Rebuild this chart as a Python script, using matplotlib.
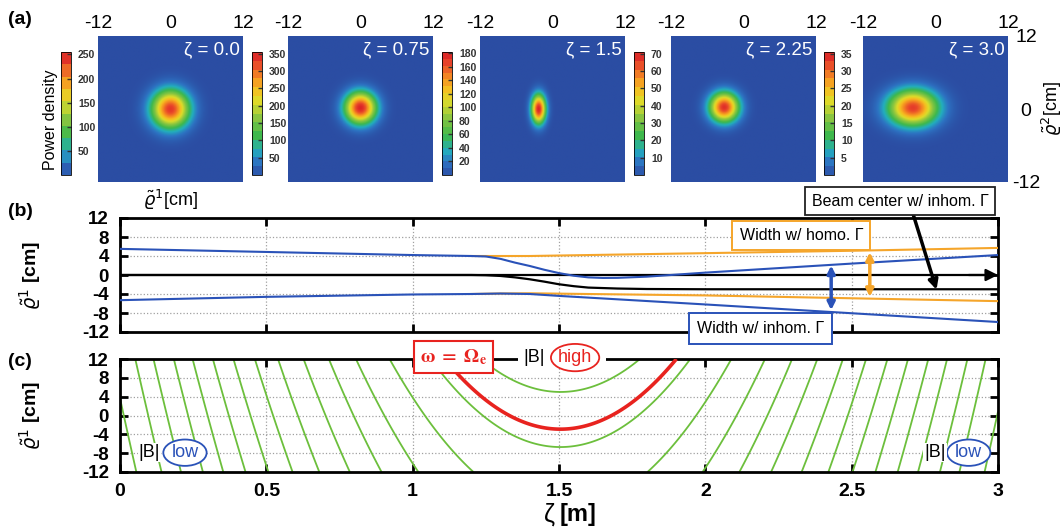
import numpy as np
import matplotlib
matplotlib.use('Agg')
import matplotlib.pyplot as plt
from matplotlib.colors import LinearSegmentedColormap
from matplotlib.patches import Ellipse, Rectangle

plt.rcParams['font.family'] = ['Liberation Sans', 'DejaVu Sans']
plt.rcParams['mathtext.fontset'] = 'dejavusans'

# ---------------- data: panel (a) beam cross sections ----------------
beam_labels = ['0.0', '0.75', '1.5', '2.25', '3.0']
beam_peak = [240, 350, 180, 68, 33]
beam_x0 = [0.0, 0.0, -2.3, -3.2, -3.75]
beam_y0 = [0.0, 0.2, 0.0, 0.3, 0.2]
beam_wx = [4.3, 3.6, 1.65, 3.35, 5.6]
beam_wy = [4.3, 3.6, 3.3, 3.35, 4.05]
cbar_max = [255, 355, 182, 71, 35.5]
cbar_step = [50, 50, 20, 10, 5]

# ---------------- data: panel (b) beam widths ----------------
zeta_blue_up = [0.0, 0.5, 1.0, 1.2, 1.25, 1.3, 1.35, 1.4, 1.45, 1.5, 1.55, 1.6, 1.65, 1.7, 1.8, 2.0, 2.5, 3.0]
blue_up = [5.5, 4.85, 4.2, 4.0, 3.9, 3.4, 2.6, 1.9, 1.1, 0.4, -0.15, -0.5, -0.62, -0.6, -0.35, 0.5, 2.4, 4.2]
zeta_blue_low = [0.0, 0.5, 1.0, 1.2, 1.3, 1.4, 1.5, 2.0, 2.5, 3.0]
blue_low = [-5.3, -4.6, -4.1, -4.0, -3.9, -4.0, -4.4, -6.2, -8.05, -9.9]
zeta_orange = [1.2, 1.3, 1.4, 2.0, 2.5, 3.0]
orange_up = [4.0, 4.0, 4.0, 4.6, 5.1, 5.7]
orange_low = [-4.0, -3.9, -3.85, -4.3, -4.9, -5.5]
zeta_center = [0.0, 1.2, 1.25, 1.3, 1.35, 1.4, 1.45, 1.5, 1.55, 1.6, 1.7, 1.8, 2.0, 3.0]
center = [0.0, 0.0, -0.05, -0.2, -0.5, -0.9, -1.4, -1.95, -2.35, -2.65, -2.85, -2.95, -3.0, -3.0]

# ---------------- data: panel (c) |B| contours ----------------
field_center = 1.505     # zeta of |B| maximum
field_curv = 95.0        # curvature of iso-|B| lines [cm / m^2]
green_levels = [-211.5, -188.5, -171.7, -153.8, -138.1, -122.0, -106.6, -91.6,
                -76.5, -61.2, -47.5, -34.4, -20.4, -6.7, 5.0]
resonance_level = -2.9

x_ticks = [0, 0.5, 1, 1.5, 2, 2.5, 3]
x_ticklabels = ['0', '0.5', '1', '1.5', '2', '2.5', '3']
y_ticks = [-12, -8, -4, 0, 4, 8, 12]

blue = '#2a52b8'
orange = '#f5a52a'
green = '#6cbf3c'
red = '#e8231f'

W, H = 1063, 527
fig = plt.figure(figsize=(W / 100, H / 100), dpi=100)

def rect(l, t, w, h):
    return [l / W, 1 - (t + h) / H, w / W, h / H]

cmap = LinearSegmentedColormap.from_list(
    'beam', [(0.0, '#2b4da3'), (0.10, '#2d72c2'), (0.20, '#22aebe'),
             (0.32, '#3db84c'), (0.47, '#8dc63f'), (0.60, '#dcdc2a'),
             (0.70, '#f6bd20'), (0.80, '#f48a22'), (0.91, '#e8452a'),
             (1.0, '#d81e26')])

hm_left = [98, 288, 480, 671, 863]
cb_left = [61, 252, 442, 634, 824]
g = np.linspace(-12, 12, 241)
GX, GY = np.meshgrid(g, g)
for i in range(5):
    ax = fig.add_axes(rect(hm_left[i], 36, 145, 146))
    Z = beam_peak[i] * np.exp(-2 * ((GX - beam_x0[i]) ** 2 / beam_wx[i] ** 2 +
                                    (GY - beam_y0[i]) ** 2 / beam_wy[i] ** 2))
    im = ax.imshow(Z, extent=[-12, 12, -12, 12], origin='lower', cmap=cmap,
                   vmin=0, vmax=cbar_max[i], aspect='auto', interpolation='bilinear')
    for s in ax.spines.values():
        s.set_visible(False)
    ax.xaxis.tick_top()
    ax.set_xticks([-12, 0, 12])
    ax.set_xticklabels(['-12', '0', '12'])
    ax.tick_params(axis='x', length=0, labelsize=14, pad=3)
    if i == 4:
        ax.yaxis.tick_right()
        ax.set_yticks([12, 0, -12])
        ax.set_yticklabels(['12', '0', '-12'])
        ax.tick_params(axis='y', length=0, labelsize=14, pad=13)
        for lab in ax.get_yticklabels():
            lab.set_horizontalalignment('center')
        ax.text(1.3, 0.5, r'$\tilde{\varrho}^{2}$[cm]', transform=ax.transAxes,
                rotation=90, ha='center', va='center', fontsize=13)
    else:
        ax.set_yticks([])
    ax.text(11.4, 9.7, 'ζ = ' + beam_labels[i], color='white', fontsize=13.5,
            ha='right', va='center')
    if i == 0:
        ax.text(0.5, -0.12, r'$\tilde{\varrho}^{1}$[cm]', transform=ax.transAxes,
                ha='center', va='center', fontsize=13)

    cax = fig.add_axes(rect(cb_left[i], 52, 10, 123))
    nb = int(round(cbar_max[i] / (cbar_step[i] / 2.0)))
    bounds = np.linspace(0, cbar_max[i], nb + 1)
    cb = fig.colorbar(im, cax=cax, boundaries=bounds)
    ticks = np.arange(cbar_step[i], cbar_max[i] + 0.01, cbar_step[i])
    cb.set_ticks(ticks)
    cb.set_ticklabels([('%g' % t) for t in ticks])
    cax.tick_params(direction='in', length=3, width=1, labelsize=7.5, pad=5,
                    colors='#333333')
    for lab in cax.get_yticklabels():
        lab.set_fontweight('bold')
    cb.outline.set_linewidth(0.6)
    if i == 0:
        cax.text(-1.1, 0.45, 'Power density', transform=cax.transAxes, rotation=90,
                 ha='center', va='center', fontsize=11.5)

def style_line_axes(ax, grid_y):
    ax.set_xlim(0, 3)
    ax.set_ylim(-12, 12)
    ax.set_xticks(x_ticks)
    ax.set_xticklabels(x_ticklabels)
    ax.set_yticks(y_ticks)
    ax.set_yticklabels([str(v) for v in y_ticks])
    ax.tick_params(direction='in', length=6, width=2, top=True, right=True,
                   labelsize=13.5)
    ax.tick_params(axis='y', pad=8)
    for lab in ax.get_yticklabels():
        lab.set_fontweight('bold')
    for s in ax.spines.values():
        s.set_linewidth(2)
    for xv in [0.5, 1, 1.5, 2, 2.5]:
        ax.axvline(xv, color='#a0a0a0', ls=':', lw=0.9, zorder=0)
    for yv in grid_y:
        ax.axhline(yv, color='#a0a0a0', ls=':', lw=0.9, zorder=0)
    ax.set_ylabel(r'$\tilde{\varrho}^{1}$ [cm]', fontsize=14, fontweight='bold')
    ax.yaxis.set_label_coords(-0.088, 0.5)

# ---------------- panel (b) ----------------
axb = fig.add_axes(rect(120, 218, 878, 114))
style_line_axes(axb, [-8, -4, 4, 8])
axb.set_xticklabels([])
axb.plot([0, 2.95], [0, 0], color='black', lw=1.6, zorder=2)
axb.annotate('', xy=(3.0, 0), xytext=(2.9, 0),
             arrowprops=dict(arrowstyle='-|>', color='black', lw=1.6,
                             mutation_scale=18, shrinkA=0, shrinkB=0),
             annotation_clip=False)
axb.plot(zeta_orange, orange_up, color=orange, lw=1.5, zorder=3)
axb.plot(zeta_orange, orange_low, color=orange, lw=1.5, zorder=3)
axb.plot(zeta_center, center, color='black', lw=1.6, zorder=3)
axb.plot(zeta_blue_up, blue_up, color=blue, lw=1.5, zorder=4)
axb.plot(zeta_blue_low, blue_low, color=blue, lw=1.5, zorder=4)

axb.annotate('', xy=(2.43, -7.4), xytext=(2.43, 2.0),
             arrowprops=dict(arrowstyle='<|-|>', color=blue, lw=2.5,
                             mutation_scale=11, shrinkA=0, shrinkB=0), zorder=5)
axb.annotate('', xy=(2.562, -4.6), xytext=(2.562, 4.8),
             arrowprops=dict(arrowstyle='<|-|>', color=orange, lw=2.5,
                             mutation_scale=11, shrinkA=0, shrinkB=0), zorder=5)
axb.annotate('', xy=(2.79, -3.1), xytext=(2.709, 13.0),
             arrowprops=dict(arrowstyle='-|>', color='black', lw=2.5,
                             mutation_scale=14, shrinkA=0, shrinkB=0),
             annotation_clip=False, zorder=5)

axb.text(2.665, 15.5, 'Beam center w/ inhom. Γ', fontsize=11.5, ha='center',
         va='center', clip_on=False, zorder=8,
         bbox=dict(boxstyle='square,pad=0.4', fc='white', ec='#222222', lw=1.3))
axb.text(2.328, 8.3, 'Width w/ homo. Γ', fontsize=11.5, ha='center',
         va='center', clip_on=False, zorder=8,
         bbox=dict(boxstyle='square,pad=0.45', fc='white', ec=orange, lw=1.4))
axb.text(2.188, -11.2, 'Width w/ inhom. Γ', fontsize=11.5, ha='center',
         va='center', clip_on=False, zorder=8,
         bbox=dict(boxstyle='square,pad=0.5', fc='white', ec=blue, lw=1.4))

# ---------------- panel (c) ----------------
axc = fig.add_axes(rect(120, 359, 878, 113))
style_line_axes(axc, [-8, -4, 0, 4, 8])
for lab in axc.get_xticklabels():
    lab.set_fontweight('bold')
axc.tick_params(axis='x', pad=8, labelsize=14)
zz = np.linspace(0, 3, 901)
yy = np.linspace(-12, 12, 241)
ZZ, YY = np.meshgrid(zz, yy)
F = YY - field_curv * (ZZ - field_center) ** 2
axc.contour(ZZ, YY, F, levels=sorted(green_levels), colors=green, linewidths=1.3,
            linestyles='solid', zorder=2)
axc.contour(ZZ, YY, F, levels=[resonance_level], colors=red, linewidths=2.6,
            linestyles='solid', zorder=3)

axc.text(1.14, 12.4, r'$\mathbf{\omega}\ \mathbf{=}\ \mathbf{\Omega_e}$', color=red,
         fontsize=14, math_fontfamily='stix', ha='center', va='center',
         clip_on=False, zorder=9,
         bbox=dict(boxstyle='square,pad=0.3', fc='white', ec=red, lw=1.5))
axc.add_patch(Rectangle((1.36, 10.5), 0.3, 4.0, fc='white', ec='none',
                        clip_on=False, zorder=6))
axc.text(1.415, 12.3, '|B|', fontsize=13, ha='center', va='center', clip_on=False, zorder=8)
axc.add_patch(Ellipse((1.555, 12.3), 0.165, 5.8, fc='white', ec=red, lw=1.3,
                      clip_on=False, zorder=7))
axc.text(1.555, 12.3, 'high', color=red, fontsize=13, ha='center', va='center',
         clip_on=False, zorder=8)

for (bz, lz) in [(0.10, 0.222), (2.785, 2.90)]:
    axc.text(bz, -7.9, '|B|', fontsize=13, ha='center', va='center', zorder=8,
             bbox=dict(boxstyle='square,pad=0.05', fc='white', ec='none'))
    axc.add_patch(Ellipse((lz, -7.9), 0.148, 5.6, fc='white', ec=blue, lw=1.3,
                          clip_on=False, zorder=7))
    axc.text(lz, -7.9, 'low', color=blue, fontsize=13, ha='center', va='center',
             zorder=8)

fig.text(555 / W, 1 - 515 / H, 'ζ', fontsize=18, ha='right', va='center')
fig.text(560 / W, 1 - 515 / H, '[m]', fontsize=17, fontweight='bold',
         ha='left', va='center')

fig.text(8 / W, 1 - 20 / H, '(a)', fontsize=14, fontweight='bold', va='center')
fig.text(8 / W, 1 - 211 / H, '(b)', fontsize=14, fontweight='bold', va='center')
fig.text(8 / W, 1 - 362 / H, '(c)', fontsize=14, fontweight='bold', va='center')

fig.savefig('out.png', dpi=100)
